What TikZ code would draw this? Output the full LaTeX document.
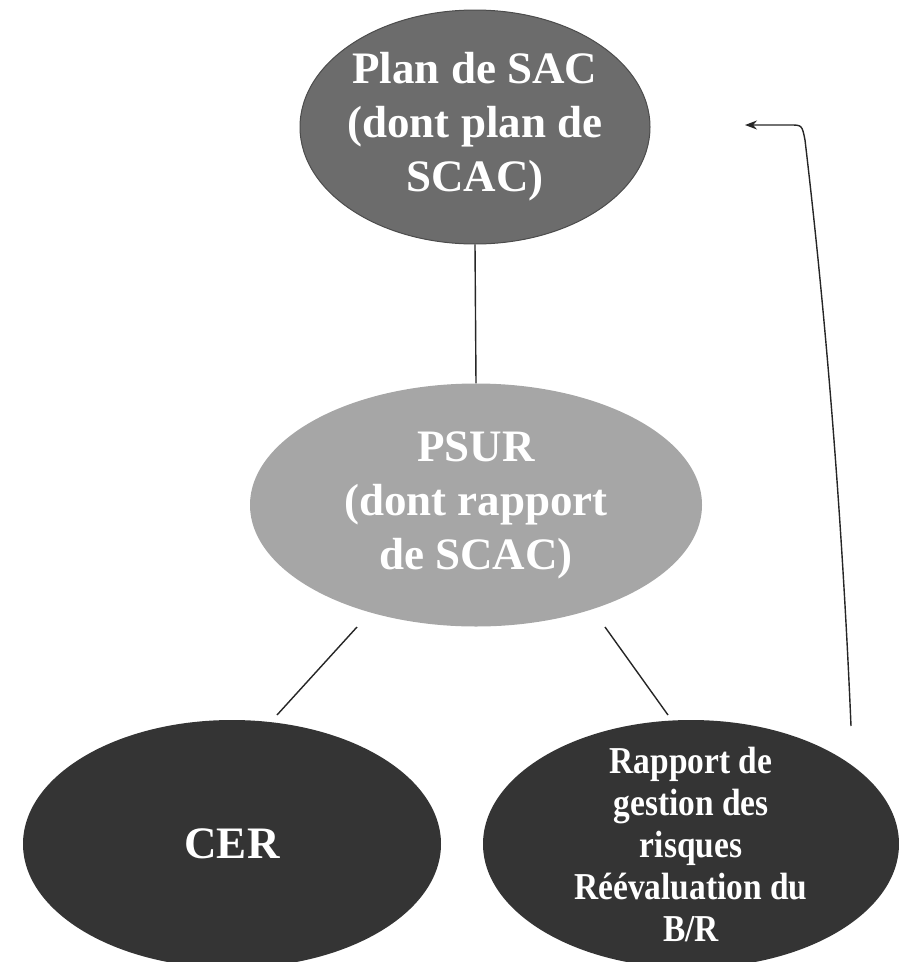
\documentclass[tikz,border=0pt]{standalone}
\usepackage{fontspec}
\setmainfont{Liberation Serif}
\newfontfamily\condserif[FakeStretch=0.88]{Liberation Serif}
\usetikzlibrary{shapes.geometric,arrows.meta}
\definecolor{gTop}{RGB}{108,108,108}
\definecolor{gMid}{RGB}{166,166,166}
\definecolor{gDark}{RGB}{52,52,52}
\begin{document}
\begin{tikzpicture}[x=1pt,y=-1pt,
  ell/.style={ellipse, inner sep=0pt},
  bigtxt/.style={text=white, align=center, inner sep=0pt, font=\fontsize{45}{54}\selectfont\bfseries},
  smalltxt/.style={text=white, align=center, inner sep=0pt, font=\condserif\fontsize{38}{42}\selectfont\bfseries},
  conn/.style={draw=black!85, line width=1.4pt}]
\useasboundingbox (0,0) rectangle (898,962);
\node[ell, fill=gTop, draw=gTop!70!black, line width=1pt, minimum width=350pt, minimum height=234pt] (plan) at (475,127) {};
\node[bigtxt] (planT) at (plan.center) {Plan de SAC\\(dont plan de\\SCAC)};
\node[ell, fill=gMid, minimum width=452pt, minimum height=243pt] (psur) at (476,505) {};
\node[bigtxt] (psurT) at (psur.center) {PSUR\\(dont rapport\\de SCAC)};
\node[ell, fill=gDark, minimum width=418pt, minimum height=248pt] (cer) at (232,844) {};
\node[bigtxt] (cerT) at (cer.center) {CER};
\node[ell, fill=gDark, minimum width=416pt, minimum height=248pt] (rgr) at (691,844) {};
\node[smalltxt] (rgrT) at (rgr.center) {Rapport de\\gestion des\\risques\\Réévaluation du\\B/R};
\draw[conn] (plan.south) -- (psur.north);
\coordinate (a1) at (357,627); \coordinate (a2) at (277,715);
\coordinate (b1) at (605,627); \coordinate (b2) at (668,715);
\draw[conn] (a1) -- (a2);
\draw[conn] (b1) -- (b2);
\coordinate (fbS) at (851,726);
\coordinate (fbE) at (745,125);
\draw[conn, -{Stealth[length=12pt,width=9pt]}] (fbS) .. controls (838,420) and (812,200) .. (805,140) .. controls (802,125) .. (790,125) -- (fbE);
\end{tikzpicture}
\end{document}
